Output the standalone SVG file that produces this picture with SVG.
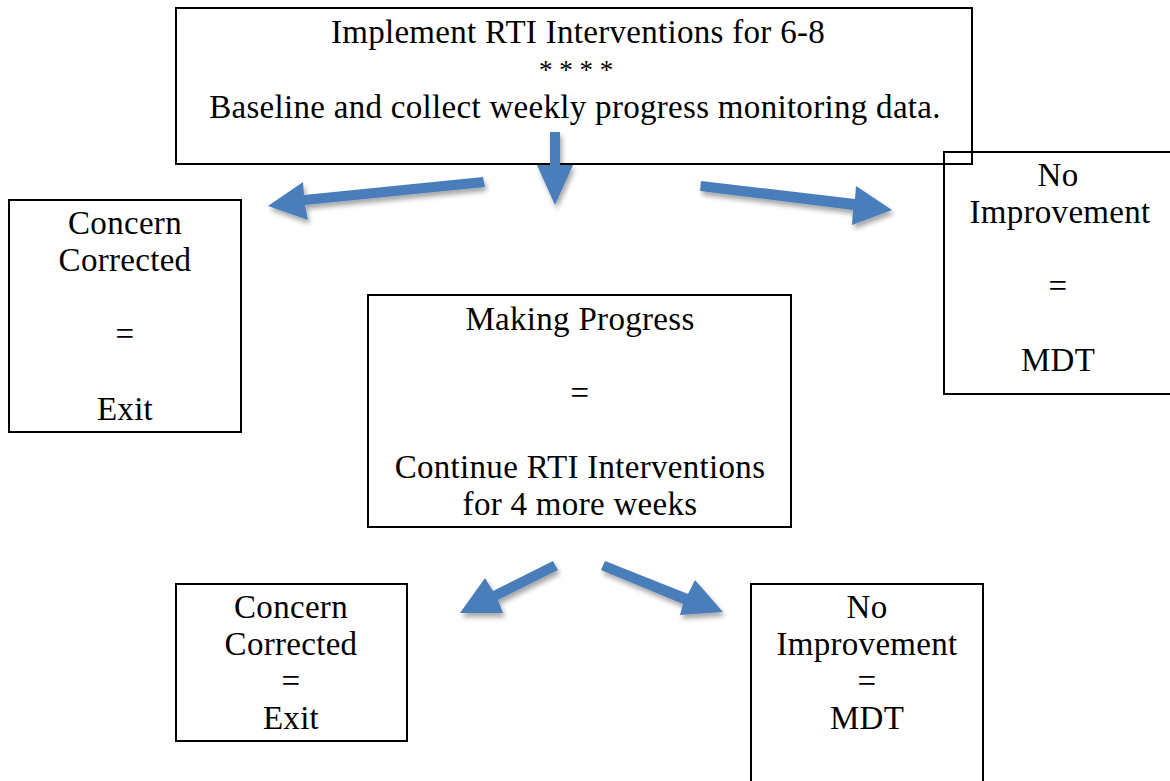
<svg xmlns="http://www.w3.org/2000/svg" width="1170" height="781" viewBox="0 0 1170 781">
<defs>
<style>
.box{fill:#fff;stroke:#000;stroke-width:2}
.t{font-family:"Liberation Serif","Times New Roman",serif;font-size:33px;letter-spacing:0.3px;fill:#000;text-anchor:middle}
.ast{font-size:27px;letter-spacing:0}
.arr{fill:#4A7EBB;filter:url(#sh)}
</style>
<filter id="sh" x="-30%" y="-30%" width="160%" height="160%">
<feDropShadow dx="2" dy="4" stdDeviation="2.5" flood-color="#000" flood-opacity="0.35"/>
</filter>
</defs>
<rect width="1170" height="781" fill="#fff"/>
<g id="top">
<rect class="box" x="176" y="8" width="796" height="156"/>
<text class="t" x="578" y="43">Implement RTI Interventions for 6-8</text>
<text class="t ast" x="576" y="79">* * * *</text>
<text class="t" x="575" y="118">Baseline and collect weekly progress monitoring data.</text>
</g>
<g id="right1">
<rect x="944" y="152" width="232" height="242" fill="none" stroke="#000" stroke-width="2"/>
<text class="t" x="1058" y="186">No</text>
<text class="t" x="1060" y="223">Improvement</text>
<text class="t" x="1058" y="297">=</text>
<text class="t" x="1058" y="371">MDT</text>
</g>
<g id="left1">
<rect class="box" x="9" y="200" width="232" height="232"/>
<text class="t" x="125" y="234">Concern</text>
<text class="t" x="125" y="271">Corrected</text>
<text class="t" x="125" y="345">=</text>
<text class="t" x="125" y="420">Exit</text>
</g>
<g id="middle">
<rect class="box" x="368" y="295" width="423" height="232"/>
<text class="t" x="580" y="330">Making Progress</text>
<text class="t" x="580" y="404">=</text>
<text class="t" x="580" y="478">Continue RTI Interventions</text>
<text class="t" x="580" y="515">for 4 more weeks</text>
</g>
<g id="left2">
<rect class="box" x="176" y="584" width="231" height="157"/>
<text class="t" x="291" y="618">Concern</text>
<text class="t" x="291" y="655">Corrected</text>
<text class="t" x="291" y="692">=</text>
<text class="t" x="291" y="729">Exit</text>
</g>
<g id="right2">
<path d="M751 790 V584 H983 V790" fill="none" stroke="#000" stroke-width="2"/>
<text class="t" x="867" y="618">No</text>
<text class="t" x="867" y="655">Improvement</text>
<text class="t" x="867" y="692">=</text>
<text class="t" x="867" y="729">MDT</text>
</g>
<g id="connectors">
<polygon class="arr" points="550,132 560,132 560,165 573,165 555,205 537,165 550,165"/>
<polygon class="arr" points="483,177 485,187 305,205 308,220 268,206 303,182 304,195"/>
<polygon class="arr" points="701,181 700,191 853,210 852,225 892,210 856,186 855,199"/>
<polygon class="arr" points="553,561 558,570 498,600 503,613 460,613 485,578 493,591"/>
<polygon class="arr" points="605,561 601,570 683,604 680,615 723,612 695,580 688,594"/>
</g>
</svg>
